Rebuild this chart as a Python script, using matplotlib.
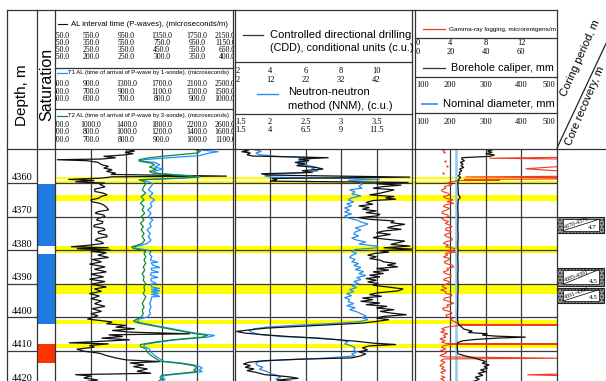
import matplotlib
matplotlib.use('Agg')
import matplotlib.pyplot as plt
from matplotlib.patches import Rectangle
from matplotlib.transforms import Bbox, TransformedBbox

W, H = 606, 381
D_TOP, D_BOT = 4349.8, 4419.1
Y_LOG = 149          # pixel row where the log area starts

SERIF = 'Liberation Serif'
SANS = 'Liberation Sans'

# ---------------- data ----------------
depth_ticks = [4360, 4370, 4380, 4390, 4400, 4410, 4420]

# saturation column
sat_top = [4360.3, 4381.2, 4408.0]
sat_bot = [4378.8, 4402.2, 4413.6]
sat_col = ['#1f7be0', '#1f7be0', '#ff3300']

# highlighted intervals (yellow)
band_top = [4358.1, 4359.4, 4363.5, 4378.8, 4390.5, 4400.8, 4408.1]
band_bot = [4358.8, 4360.3, 4365.2, 4381.0, 4393.2, 4402.0, 4409.1]

# coring intervals and recovery
core_top = [4370, 4385, 4391]
core_bot = [4375, 4391, 4396]
core_rec = [4.7, 4.5, 4.5]

# scales printed in the header
al_rows = [[150, 550, 950, 1350, 1750, 2150],
           [150, 350, 550, 750, 950, 1150],
           [150, 250, 350, 450, 550, 650],
           [150, 200, 250, 300, 350, 400]]
t1_rows = [[500, 900, 1300, 1700, 2100, 2500],
           [500, 700, 900, 1100, 1300, 1500],
           [500, 600, 700, 800, 900, 1000]]
t2_rows = [[600, 1000, 1400, 1800, 2200, 2600],
           [600, 800, 1000, 1200, 1400, 1600],
           [600, 700, 800, 900, 1000, 1100]]
cdd_rows = [['2', '4', '6', '8', '10'], ['2', '12', '22', '32', '42']]
nnm_rows = [['1.5', '2', '2.5', '3', '3.5'], ['1.5', '4', '6.5', '9', '11.5']]
gr_rows = [['0', '4', '8', '12'], ['0', '20', '40', '60']]
cal_row = ['100', '200', '300', '400', '500']

# AL interval time, microseconds/m (depth, value)
al_log = [
    (4350.0, 252), (4350.4, 262), (4350.8, 248), (4351.2, 260), (4351.6, 245),
    (4352.0, 218), (4352.4, 235), (4352.8, 215), (4353.0, 152), (4353.3, 195),
    (4353.8, 210), (4354.5, 215), (4355.0, 225), (4355.5, 218), (4356.0, 230),
    (4356.5, 222), (4357.0, 235), (4357.4, 228), (4357.9, 392), (4358.1, 230),
    (4358.5, 215), (4358.9, 168), (4359.2, 205), (4359.6, 178), (4360.0, 220),
    (4360.3, 212), (4361.1, 220), (4361.8, 205), (4362.5, 206), (4363.0, 218),
    (4363.5, 223), (4364.0, 214), (4364.5, 211), (4365.0, 200), (4365.5, 201),
    (4366.0, 212), (4366.5, 218), (4367.2, 222), (4368.0, 225), (4368.5, 210),
    (4369.0, 206), (4369.5, 218), (4370.0, 220), (4370.5, 210), (4371.0, 208),
    (4371.5, 217), (4372.0, 216), (4372.5, 205), (4373.0, 204), (4373.5, 218),
    (4374.0, 220), (4374.5, 210), (4375.0, 211), (4375.5, 222), (4376.0, 223),
    (4376.5, 210), (4377.0, 206), (4377.5, 214), (4378.0, 218), (4378.6, 195),
    (4379.0, 172), (4379.3, 225), (4379.6, 180), (4380.0, 228), (4380.4, 200),
    (4380.8, 222), (4381.5, 210), (4382.2, 225), (4382.8, 202), (4383.5, 215),
    (4384.2, 198), (4385.0, 220), (4385.7, 205), (4386.5, 222), (4387.2, 200),
    (4388.0, 218), (4388.7, 198), (4389.4, 220), (4390.2, 200), (4391.0, 222),
    (4391.6, 205), (4392.3, 215), (4393.0, 198), (4393.7, 212), (4394.5, 200),
    (4395.2, 215), (4396.0, 205), (4396.8, 220), (4397.5, 202), (4398.3, 215),
    (4399.0, 200), (4399.6, 210), (4400.6, 195), (4401.0, 212), (4401.5, 230),
    (4402.0, 222), (4402.5, 250), (4403.0, 235), (4403.5, 262), (4404.0, 230),
    (4404.5, 255), (4405.0, 340), (4405.3, 225), (4405.8, 245), (4406.3, 215),
    (4406.8, 255), (4407.3, 210), (4407.7, 169), (4408.0, 225), (4408.5, 198),
    (4409.0, 205), (4409.6, 180), (4410.2, 190), (4410.8, 212), (4411.5, 222),
    (4412.2, 235), (4412.8, 250), (4413.3, 298), (4413.7, 255), (4414.3, 275),
    (4414.8, 260), (4415.5, 280), (4416.2, 265), (4416.8, 285), (4417.2, 178),
    (4417.6, 200), (4418.2, 190), (4418.8, 210), (4419.2, 195)]

# T1 AL, arrival time by sonde 1, microseconds
t1_log = [
    (4350.0, 900), (4350.3, 930), (4350.6, 960), (4351.0, 935), (4351.4, 920),
    (4351.8, 905), (4352.4, 820), (4353.0, 750), (4353.4, 735), (4353.8, 780),
    (4354.5, 795), (4355.2, 780), (4355.8, 805), (4356.5, 775), (4357.0, 785),
    (4357.5, 840), (4358.1, 910), (4358.5, 860), (4359.0, 740), (4359.5, 760),
    (4360.2, 775), (4361, 770), (4362, 762), (4363, 775), (4364, 765), (4365, 780),
    (4366, 768), (4367, 772), (4368, 760), (4369, 770), (4370, 762), (4371, 775),
    (4372, 766), (4373, 770), (4374, 758), (4375, 768), (4376, 762), (4377, 770),
    (4378, 760), (4378.6, 740), (4379.0, 720), (4379.5, 730), (4380.0, 760),
    (4380.5, 770), (4381.0, 765), (4382, 772), (4383, 768), (4383.6, 790),
    (4383.8, 770), (4384.5, 775), (4385.2, 795), (4385.4, 770), (4386, 772),
    (4386.6, 792), (4386.8, 770), (4387.5, 768), (4388.2, 790), (4388.4, 770),
    (4389.2, 770), (4390, 785), (4390.2, 768), (4391, 772), (4391.5, 795),
    (4391.7, 770), (4392.2, 795), (4392.4, 770), (4393, 792), (4393.2, 770),
    (4393.8, 795), (4394, 772), (4395, 770), (4396, 766), (4397, 770), (4398, 765),
    (4399, 768), (4400, 760), (4400.6, 735), (4401.2, 730), (4401.8, 745),
    (4402.5, 780), (4403.3, 820), (4404, 855), (4404.8, 895), (4405.5, 950),
    (4406, 930), (4406.8, 840), (4407.5, 790), (4408.2, 750), (4408.8, 750),
    (4409.5, 765), (4410.5, 770), (4411.5, 780), (4412.5, 795), (4413.2, 805),
    (4413.8, 860), (4414.5, 900), (4415.2, 915), (4415.8, 905), (4416.3, 915),
    (4416.8, 870), (4417.4, 810), (4418, 800), (4418.6, 810), (4419.2, 800)]

# T2 AL, arrival time by sonde 2, microseconds
t2_log = [
    (4350.0, 995), (4350.5, 1010), (4351.0, 1000), (4351.5, 950), (4352.0, 900),
    (4352.5, 860), (4353.0, 835), (4353.5, 840), (4354.0, 870), (4354.5, 880),
    (4355.2, 865), (4355.8, 885), (4356.5, 865), (4357.0, 875), (4357.5, 930),
    (4358.1, 1005), (4358.5, 950), (4359.0, 835), (4359.5, 850), (4360.2, 855),
    (4361, 850), (4362, 845), (4363, 855), (4364, 842), (4365, 850), (4366, 840),
    (4367, 850), (4368, 845), (4369, 852), (4370, 842), (4371, 850), (4372, 840),
    (4373, 848), (4374, 842), (4375, 850), (4376, 845), (4377, 852), (4378, 845),
    (4378.6, 830), (4379.0, 815), (4379.5, 820), (4380.0, 845), (4380.5, 855),
    (4381.0, 850), (4382, 855), (4383, 850), (4384, 855), (4385, 848), (4386, 852),
    (4387, 845), (4388, 850), (4389, 848), (4390, 855), (4391, 850), (4392, 852),
    (4393, 848), (4394, 855), (4395, 850), (4396, 845), (4397, 850), (4398, 845),
    (4399, 848), (4400, 842), (4400.6, 830), (4401.2, 820), (4401.8, 835),
    (4402.5, 870), (4403.3, 910), (4404, 945), (4404.8, 985), (4405.5, 1030),
    (4406, 1015), (4406.8, 930), (4407.5, 880), (4408.2, 840), (4408.8, 840),
    (4409.5, 855), (4410.5, 860), (4411.5, 870), (4412.5, 885), (4413.2, 895),
    (4413.8, 950), (4414.5, 990), (4415.2, 1000), (4415.8, 990), (4416.3, 1000),
    (4416.8, 955), (4417.4, 900), (4418, 895), (4418.6, 900), (4419.2, 890)]

# controlled directional drilling, c.u.
cdd_log = [
    (4350.0, 2.5), (4350.3, 2.8), (4350.6, 2.4), (4351.0, 2.9), (4351.5, 2.7),
    (4351.9, 3.0), (4352.4, 7.3), (4352.8, 5.6), (4353.3, 6.2), (4353.8, 5.4),
    (4354.3, 6.0), (4354.8, 5.5), (4355.3, 6.6), (4355.8, 7.0), (4356.3, 5.8),
    (4356.8, 6.4), (4357.2, 3.5), (4357.6, 4.0), (4358.2, 11.9), (4358.6, 4.1),
    (4359.0, 4.4), (4359.4, 4.0), (4359.8, 11.8), (4360.2, 10.0), (4360.6, 11.4),
    (4361.0, 10.4), (4361.5, 9.8), (4362.0, 11.0), (4362.5, 10.6), (4363.0, 10.2),
    (4363.5, 9.6), (4364.0, 11.0), (4364.4, 10.5), (4364.8, 11.1), (4365.2, 9.8),
    (4365.8, 9.4), (4366.3, 9.8), (4366.8, 9.0), (4367.3, 9.6), (4367.8, 9.2),
    (4368.3, 10.0), (4368.8, 9.4), (4369.3, 10.2), (4369.8, 10.0), (4370.3, 9.0),
    (4370.8, 9.6), (4371.3, 11.0), (4371.8, 10.8), (4372.3, 11.6), (4372.8, 11.0),
    (4373.3, 10.6), (4373.8, 11.4), (4374.3, 10.4), (4374.8, 10.0), (4375.3, 10.8),
    (4375.8, 10.2), (4376.3, 9.8), (4376.8, 10.6), (4377.3, 11.6), (4377.8, 11.2),
    (4378.3, 10.8), (4378.8, 11.9), (4379.3, 10.4), (4379.7, 12.0), (4380.2, 10.2),
    (4380.6, 10.7), (4381.0, 9.9), (4381.5, 9.5), (4382.0, 10.0), (4382.5, 9.6),
    (4383.0, 10.2), (4383.5, 10.4), (4384.0, 11.1), (4384.5, 10.6), (4385.0, 11.2),
    (4385.5, 10.0), (4386.0, 10.7), (4386.5, 9.8), (4387.0, 10.4), (4387.5, 9.6),
    (4388.0, 10.2), (4388.5, 9.4), (4389.0, 10.0), (4389.5, 9.5), (4390.0, 10.1),
    (4390.5, 9.8), (4391.0, 10.6), (4391.6, 11.5), (4392.2, 11.2), (4392.8, 10.0),
    (4393.3, 9.6), (4393.8, 10.3), (4394.3, 9.2), (4394.8, 9.8), (4395.3, 9.1),
    (4395.8, 10.2), (4396.3, 9.4), (4396.8, 10.6), (4397.3, 10.0), (4397.8, 11.0),
    (4398.3, 10.2), (4398.8, 10.8), (4399.3, 11.7), (4399.8, 10.4), (4400.3, 10.0),
    (4400.8, 10.7), (4401.3, 10.0), (4401.8, 9.2), (4402.3, 7.4), (4402.8, 5.6),
    (4403.3, 3.8), (4403.8, 2.9), (4404.3, 2.1), (4404.8, 2.6), (4405.3, 3.7),
    (4405.8, 5.0), (4406.3, 6.6), (4406.8, 7.9), (4407.3, 9.0), (4407.8, 9.8),
    (4408.2, 11.1), (4408.6, 9.6), (4409.2, 9.2), (4409.8, 9.5), (4410.4, 9.0),
    (4411.0, 9.4), (4411.6, 9.1), (4412.2, 8.6), (4412.6, 5.6), (4413.0, 3.8),
    (4413.5, 2.8), (4414.0, 2.5), (4414.5, 2.9), (4415.0, 2.6), (4415.5, 3.1),
    (4416.0, 2.7), (4416.5, 3.2), (4417.2, 3.7), (4417.8, 5.0), (4418.3, 5.6),
    (4418.8, 4.4), (4419.2, 5.2)]

# neutron-neutron method, c.u.
nnm_log = [
    (4350.0, 1.78), (4350.5, 1.88), (4351.0, 1.80), (4351.5, 1.85), (4352.0, 2.10),
    (4352.4, 2.60), (4352.8, 2.55), (4353.3, 2.40), (4353.8, 2.50), (4354.3, 2.38),
    (4354.8, 2.55), (4355.3, 2.65), (4355.8, 2.58), (4356.3, 2.68), (4356.8, 2.52),
    (4357.3, 2.10), (4357.8, 1.92), (4358.2, 2.00), (4358.6, 3.05), (4358.9, 3.55),
    (4359.2, 3.10), (4359.7, 3.25), (4360.3, 3.30), (4361.0, 3.25), (4361.5, 3.30),
    (4362.0, 3.12), (4362.6, 3.20), (4363.2, 3.15), (4363.8, 3.28), (4364.4, 3.15),
    (4365.0, 3.10), (4365.6, 3.18), (4366.2, 3.08), (4366.8, 3.15), (4367.4, 3.05),
    (4368.0, 3.12), (4368.6, 3.05), (4369.2, 3.15), (4369.8, 3.05), (4370.4, 3.10),
    (4371.0, 3.22), (4371.6, 3.28), (4372.2, 3.38), (4372.8, 3.30), (4373.4, 3.20),
    (4374.0, 3.28), (4374.6, 3.20), (4375.2, 3.18), (4375.8, 3.25), (4376.4, 3.15),
    (4377.0, 3.22), (4377.6, 3.35), (4378.2, 3.25), (4378.8, 3.50), (4379.3, 3.52),
    (4379.8, 3.20), (4380.4, 3.15), (4381.0, 3.22), (4381.6, 3.15), (4382.2, 3.12),
    (4382.8, 3.20), (4383.5, 3.15), (4384.0, 3.25), (4384.6, 3.18), (4385.2, 3.28),
    (4385.8, 3.20), (4386.4, 3.32), (4387.0, 3.25), (4387.6, 3.35), (4388.2, 3.22),
    (4388.8, 3.28), (4389.4, 3.18), (4390.0, 3.25), (4390.6, 3.15), (4391.2, 3.22),
    (4391.8, 3.12), (4392.4, 3.18), (4393.0, 3.08), (4393.6, 3.15), (4394.2, 3.05),
    (4394.8, 3.12), (4395.4, 3.10), (4396.0, 3.18), (4396.6, 3.08), (4397.2, 3.20),
    (4397.8, 3.12), (4398.4, 3.22), (4399.0, 3.28), (4399.6, 3.35), (4400.2, 3.30),
    (4400.8, 3.38), (4401.4, 3.25), (4401.9, 2.90), (4402.4, 2.40), (4402.9, 2.00),
    (4403.5, 1.78), (4404.0, 1.70), (4404.6, 1.75), (4405.2, 1.85), (4405.8, 2.15),
    (4406.2, 2.65), (4406.8, 2.98), (4407.4, 3.10), (4408.0, 3.05), (4408.6, 3.15),
    (4409.2, 3.20), (4409.8, 3.18), (4410.5, 3.22), (4411.0, 3.15), (4411.6, 3.20),
    (4412.0, 2.95), (4412.4, 2.65), (4412.8, 2.20), (4413.2, 1.85), (4413.8, 1.80),
    (4414.4, 1.82), (4415.0, 1.90), (4415.6, 1.85), (4416.2, 1.95), (4416.8, 2.00),
    (4417.4, 2.10), (4418.0, 2.15), (4418.6, 2.08), (4419.2, 2.15)]

# gamma-ray logging (values above 16 run off the track)
gr_log = [
    (4352.3, 16.5), (4352.55, 8.4), (4352.8, 16.5), (4355.0, 16.5), (4355.7, 12.5),
    (4356.4, 16.5), (4357.95, 16.5), (4358.15, 5.7), (4358.35, 16.5), (4358.75, 16.5),
    (4358.9, 5.6), (4359.05, 9.6), (4359.2, 5.0), (4359.5, 4.3), (4360.0, 3.6),
    (4360.5, 4.2), (4361.0, 3.3), (4361.5, 3.5), (4362.0, 3.0), (4362.5, 3.1),
    (4363.0, 3.7), (4363.5, 4.0), (4364.0, 3.2), (4364.5, 3.5), (4365.0, 4.3),
    (4365.5, 3.6), (4366.0, 4.4), (4366.5, 3.4), (4367.0, 3.2), (4367.5, 3.9),
    (4368.0, 3.6), (4368.5, 3.1), (4369.0, 3.05), (4369.5, 3.7), (4370.0, 3.8),
    (4370.5, 3.0), (4371.0, 3.25), (4371.5, 3.8), (4372.0, 3.4), (4372.5, 3.9),
    (4373.0, 4.2), (4373.5, 3.5), (4374.0, 3.45), (4374.5, 4.1), (4375.0, 3.8),
    (4375.5, 3.3), (4376.0, 3.6), (4376.5, 4.2), (4377.0, 4.2), (4377.5, 3.5),
    (4378.0, 3.2), (4378.5, 3.8), (4379.0, 3.45), (4379.5, 4.5), (4380.0, 4.4),
    (4380.3, 3.6), (4380.6, 4.6), (4381.0, 3.4), (4381.5, 3.7), (4382.0, 3.2),
    (4382.5, 3.9), (4383.0, 3.8), (4383.5, 3.3), (4384.0, 3.45), (4384.5, 4.2),
    (4385.0, 4.4), (4385.5, 3.6), (4386.0, 3.8), (4386.5, 3.2), (4387.0, 3.45),
    (4387.5, 4.1), (4388.0, 4.0), (4388.5, 3.4), (4388.9, 3.2), (4389.4, 3.9),
    (4389.9, 3.8), (4390.4, 3.3), (4390.9, 3.05), (4391.4, 3.6), (4391.9, 2.9),
    (4392.4, 3.5), (4392.9, 3.45), (4393.4, 4.2), (4393.9, 4.0), (4394.4, 3.3),
    (4394.9, 3.25), (4395.4, 3.9), (4395.9, 4.4), (4396.4, 3.6), (4396.9, 3.8),
    (4397.4, 3.1), (4397.9, 3.25), (4398.4, 4.0), (4398.9, 4.2), (4399.4, 3.5),
    (4399.9, 3.6), (4400.4, 4.3), (4400.9, 4.0), (4401.4, 4.5), (4401.8, 4.7),
    (4402.2, 4.9), (4402.35, 16.5), (4402.5, 5.0), (4403.0, 3.6), (4403.5, 3.0),
    (4404.0, 3.4), (4404.5, 2.9), (4405.0, 3.7), (4405.5, 3.2), (4406.0, 3.5),
    (4406.5, 2.8), (4407.0, 3.4), (4407.5, 3.0), (4407.9, 3.6), (4408.05, 16.5),
    (4408.2, 3.8), (4408.6, 3.2), (4409.0, 3.0), (4409.5, 3.5), (4410.0, 2.9),
    (4410.5, 3.6), (4411.0, 3.3), (4411.5, 2.8), (4411.9, 3.4), (4412.3, 16.5),
    (4412.5, 3.3), (4413.0, 2.9), (4413.5, 3.4), (4414.0, 3.1), (4414.5, 2.8),
    (4415.0, 3.3), (4415.5, 3.0), (4416.0, 3.5), (4416.5, 2.9), (4416.9, 3.2),
    (float('nan'), float('nan')),
    (4417.0, 16.5), (4417.25, 12.7), (4417.5, 16.5),
    (float('nan'), float('nan')),
    (4417.6, 3.0), (4418.0, 3.4), (4418.5, 2.9), (4419.0, 3.3)]
# isolated gamma readings above the first interval
gr_dots = [(4350.1, 3.2), (4350.6, 3.3), (4353.4, 3.4), (4354.8, 3.6), (4357.0, 3.2)]

# borehole caliper, mm
cal_log = [
    (4350.0, 320), (4350.4, 305), (4350.8, 318), (4351.2, 300), (4351.6, 325),
    (4352.0, 310), (4352.4, 233), (4352.8, 232), (4353.3, 240), (4353.8, 228),
    (4354.3, 236), (4354.8, 230), (4355.3, 238), (4355.8, 226), (4356.3, 232),
    (4356.8, 225), (4357.3, 228), (4357.8, 222), (4358.3, 229), (4358.8, 224),
    (4359.4, 222), (4360.0, 221), (4362.0, 222), (4363.5, 223), (4364.3, 228),
    (4365.0, 222), (4367.0, 221), (4370.0, 222), (4373.0, 221), (4376.0, 222),
    (4379.0, 221), (4380.0, 222), (4382.0, 221), (4385.0, 222), (4388.0, 221),
    (4391.0, 222), (4394.0, 221), (4397.0, 221), (4400.0, 220), (4401.5, 221),
    (4402.3, 224), (4403.0, 232), (4403.6, 238), (4404.2, 262), (4404.6, 250),
    (4405.0, 305), (4405.4, 290), (4405.7, 330), (4406.0, 413), (4406.3, 330),
    (4406.7, 270), (4407.1, 235), (4407.6, 221), (4408.5, 219), (4409.5, 220),
    (4410.5, 220), (4411.0, 222), (4411.4, 235), (4411.8, 250), (4412.3, 270),
    (4412.8, 285), (4413.3, 300), (4413.8, 290), (4414.3, 310), (4414.8, 295),
    (4415.3, 305), (4415.8, 285), (4416.3, 300), (4416.8, 278), (4417.4, 292),
    (4418.0, 270), (4418.6, 282), (4419.2, 265)]

# nominal bit diameter, mm
nom_log = [(4349.8, 217), (4419.1, 217)]

# ---------------- layout ----------------
T1 = (55.5, 232.5)
T2 = (234.5, 412.0)
T3 = (415.0, 556.5)

fig = plt.figure(figsize=(W / 100, H / 100), dpi=100)


def log_ax(x0, x1, z=2, xlim=(0, 1)):
    ax = fig.add_axes([x0 / W, 0, (x1 - x0) / W, (H - Y_LOG) / H], zorder=z)
    ax.set_xlim(*xlim)
    ax.set_ylim(D_BOT, D_TOP)
    ax.axis('off')
    return ax


def curve(track, log, lo, hi, color, lw=0.8, z=3):
    ax = log_ax(track[0], track[1], z=z, xlim=(lo, hi))
    d, v = zip(*log)
    ax.plot(v, d, color=color, lw=lw, solid_joinstyle='miter')
    return ax


# yellow intervals behind everything
bg = log_ax(55, 557, z=0)
for t, b in zip(band_top, band_bot):
    bg.axhspan(t, b, color='#ffff00', lw=0)

# track grids
for (x0, x1), nd in [(T1, 5), (T2, 5), (T3, 4)]:
    g = log_ax(x0, x1, z=1, xlim=(0, nd))
    for i in range(1, nd):
        g.axvline(i, color='#3a3a3a', lw=0.9)
    for d in depth_ticks:
        g.axhline(d, color='#3a3a3a', lw=0.9)

# depth column
dax = log_ax(7, 37.3, z=1)
for d in depth_ticks:
    dax.axhline(d, color='#3a3a3a', lw=0.9)
    dax.text(0.5, d - 0.4, str(d), ha='center', va='bottom', family=SERIF,
             fontsize=7.5)

# saturation column
sax = log_ax(37.3, 55.3, z=1)
for t, b, c in zip(sat_top, sat_bot, sat_col):
    sax.add_patch(Rectangle((0, t), 1, b - t, color=c, lw=0))

# curves
curve(T1, al_log, 150, 400, '#111111', lw=0.9)
curve(T1, t1_log, 500, 1000, '#1e90ff', lw=0.9)
curve(T1, t2_log, 600, 1100, '#118833', lw=0.9)
curve(T2, nnm_log, 1.5, 4.0, '#2d8ee8', lw=0.9)
curve(T2, cdd_log, 2, 12, '#111111', lw=0.9)
curve(T3, nom_log, 100, 500, '#8fcaf2', lw=1.8)
gax = curve(T3, gr_log, 0, 16, '#f03a1e', lw=0.8)
gd, gv = zip(*gr_dots)
gax.plot(gv, gd, ls='none', marker='o', ms=1.6, color='#f03a1e', mew=0)
curve(T3, cal_log, 100, 500, '#111111', lw=0.9)

# core column
cax = log_ax(556.5, 606, z=2)
for t, b, r in zip(core_top, core_bot, core_rec):
    cax.add_patch(Rectangle((0.02, t + 0.2), 0.94, b - t - 0.4, facecolor='#9c9c9c',
                            edgecolor='#222222', lw=0.8, hatch='.....'))
    cax.add_patch(Rectangle((0.13, t + 0.8), 0.73, b - t - 1.6, facecolor='white',
                            edgecolor='#222222', lw=0.6))
    cax.plot([0.13, 0.86], [b - 0.8, t + 0.8], color='#222222', lw=0.6)
    cax.text(0.17, b - 1.1, f'{t}-{b}', rotation=20, ha='left', va='bottom',
             family=SERIF, fontsize=4.3, rotation_mode='anchor')
    cax.text(0.82, b - 1.0, f'{r}', ha='right', va='bottom', family=SERIF,
             fontsize=5)

# ---------------- header (pixel coordinates) ----------------
hd = fig.add_axes([0, 0, 1, 1], zorder=5)
hd.set_xlim(0, W)
hd.set_ylim(H, 0)
hd.axis('off')

LC = '#333333'


def hline(y, x0, x1, lw=0.9, c=LC):
    hd.plot([x0, x1], [y, y], color=c, lw=lw)


def vline(x, y0, y1, lw=0.9, c=LC):
    hd.plot([x, x], [y0, y1], color=c, lw=lw)


# frame
hline(10, 7, 556.5)
hline(Y_LOG, 7, 606)
for x in [7, 37.3, 55.3, 232.5, 234.5, 412.0, 415.0, 556.5]:
    vline(x, 10, H)

# track 1 header
hline(68.3, 55.3, 232.5)
hline(108.7, 55.3, 232.5)


def scale_row(track, nd, labels, y, size, clip=False):
    x0, x1 = track
    step = (x1 - x0) / nd
    box = TransformedBbox(Bbox([[x0, 0], [x1, H]]), hd.transData)
    for i, lab in enumerate(labels):
        x = x0 + i * step
        ha = 'center'
        if i == 0:
            x, ha = x0 + (-3 if clip else 1), 'left'
        elif i == nd:
            x, ha = x1 + (3 if clip else -1), 'right'
        t = hd.text(x, y, lab, ha=ha, va='center', family=SERIF, fontsize=size)
        if clip:
            t.set_clip_box(box)
            t.set_clip_on(True)


hd.plot([58, 67], [24, 24], color='#111111', lw=0.8)
hd.text(71, 24, 'AL interval time (P-waves), (microseconds/m)', va='center',
        family=SANS, fontsize=5.6)
for row, y in zip(al_rows, [36, 43, 50, 57]):
    scale_row(T1, 5, [f'{v:.1f}' for v in row], y, 5.5, clip=True)

hd.plot([57, 67], [72.7, 72.7], color='#1e90ff', lw=0.9)
hd.text(68, 72.7, 'T1 AL (time of arrival of P-wave by 1-sonde), (microseconds)',
        va='center', family=SANS, fontsize=4.3)
for row, y in zip(t1_rows, [84, 91.5, 99]):
    scale_row(T1, 5, [f'{v:.1f}' for v in row], y, 5.5, clip=True)

hd.plot([57, 67], [116, 116], color='#118833', lw=0.9)
hd.text(68, 116, 'T2 AL (time of arrival of P-wave by 2-sonde), (microseconds)',
        va='center', family=SANS, fontsize=4.3)
for row, y in zip(t2_rows, [125, 132.5, 140]):
    scale_row(T1, 5, [f'{v:.1f}' for v in row], y, 5.5, clip=True)

# track 2 header
hline(61.7, 234.5, 412.0)
hline(114, 234.5, 412.0)
hd.plot([243, 263], [35, 35], color='#333333', lw=0.9)
hd.text(270, 35, 'Controlled directional drilling', va='center', family=SANS,
        fontsize=8)
hd.text(270, 48, '(CDD), conditional units (c.u.)', va='center', family=SANS,
        fontsize=7.8)
scale_row(T2, 5, cdd_rows[0], 71, 6)
scale_row(T2, 5, cdd_rows[1], 79.5, 6)
hd.plot([257, 278], [94, 94], color='#2d8ee8', lw=1.0)
hd.text(288, 92, 'Neutron-neutron', va='center', family=SANS, fontsize=8)
hd.text(288, 106, 'method (NNM), (c.u.)', va='center', family=SANS, fontsize=8)
scale_row(T2, 5, nnm_rows[0], 122, 6)
scale_row(T2, 5, nnm_rows[1], 130, 6)

# track 3 header
hline(38.3, 415.0, 556.5)
hline(77.3, 415.0, 556.5)
hline(113.3, 415.0, 556.5)
hd.plot([423, 445], [29, 29], color='#f03a1e', lw=0.9)
hd.text(449, 29, 'Gamma-ray logging, microrentgens/m', va='center', family=SANS,
        fontsize=4.6)
scale_row(T3, 4, gr_rows[0], 43.3, 6)
scale_row(T3, 4, gr_rows[1], 51.7, 6)
hd.plot([423, 445], [67.7, 67.7], color='#333333', lw=0.9)
hd.text(451, 67.7, 'Borehole caliper, mm', va='center', family=SANS, fontsize=7.8)
scale_row(T3, 4, cal_row, 85, 6)
hd.plot([422, 437], [104, 104], color='#2d8ee8', lw=1.2)
hd.text(443, 104, 'Nominal diameter, mm', va='center', family=SANS, fontsize=8)
scale_row(T3, 4, cal_row, 121.7, 6)

# first columns
hd.text(22, 95, 'Depth, m', rotation=90, ha='center', va='center', family=SANS,
        fontsize=11)
hd.text(46.3, 84, 'Saturation', rotation=90, ha='center', va='center',
        family=SANS, fontsize=11.5)

# core column header
hd.plot([557, 610], [148, 35], color='#222222', lw=0.9)
hd.text(580, 58, 'Coring period, m', rotation=66, ha='center', va='center',
        family=SANS, fontsize=8)
hd.text(585.5, 106, 'Core recovery, m', rotation=67, ha='center', va='center',
        family=SANS, fontsize=8)

fig.savefig('out.png', dpi=100)
